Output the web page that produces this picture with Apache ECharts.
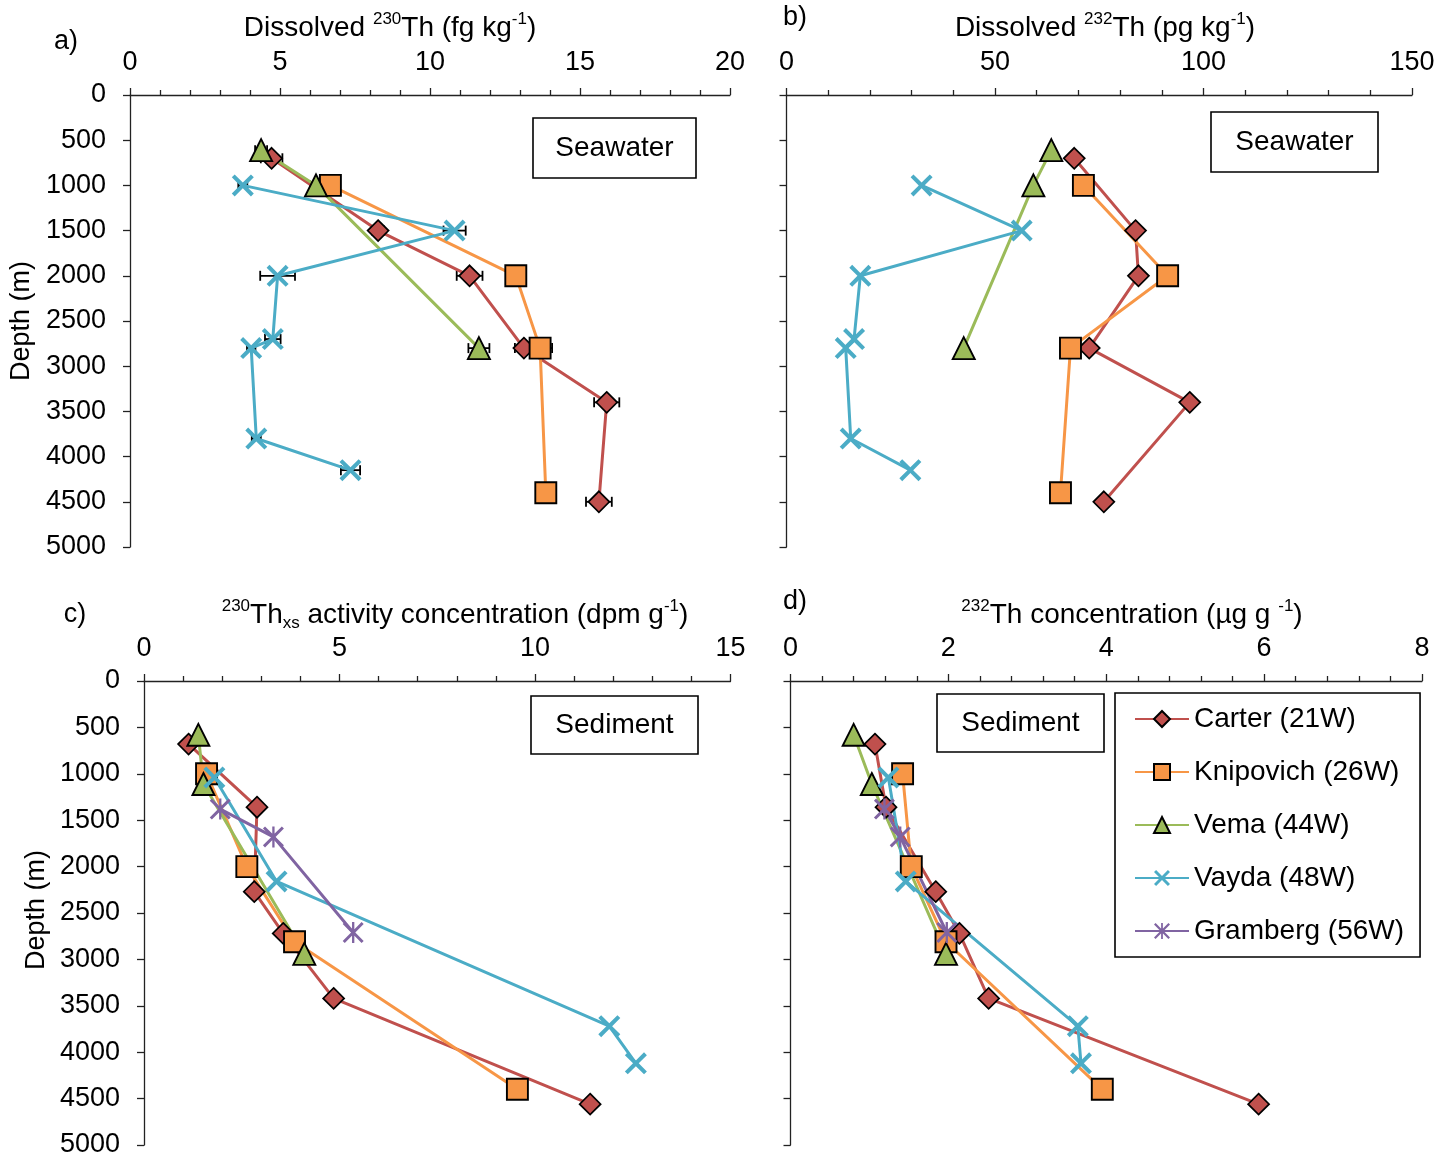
<!DOCTYPE html>
<html>
<head>
<meta charset="utf-8">
<title>Thorium profiles, Mid-Atlantic fracture zones</title>
<script src="https://cdn.jsdelivr.net/npm/echarts@6/dist/echarts.min.js"></script>
<style>
  html, body { margin: 0; padding: 0; background: #ffffff; }
  #chart { width: 1455px; height: 1160px; }
</style>
</head>
<body>
<div id="chart"></div>
<script>
// ---------- Seawater (panels a, b) ----------
const swCarterDepth    = [700, 1500, 2000, 2800, 3400, 4500];
const swKnipovichDepth = [1000, 2000, 2800, 4400];
const swVemaDepth      = [610, 1000, 2800];
const swVaydaDepth     = [1000, 1500, 2000, 2700, 2800, 3800, 4150];

// dissolved 230Th, fg/kg, with 2-sigma uncertainty
const th230Carter       = [4.72, 8.27, 11.32, 13.13, 15.89, 15.63];
const th230CarterErr    = [0.36, 0.20, 0.43, 0.30, 0.42, 0.43];
const th230Knipovich    = [6.68, 12.86, 13.67, 13.86];
const th230KnipovichErr = [0.20, 0.20, 0.40, 0.20];
const th230Vema         = [4.37, 6.20, 11.63];
const th230VemaErr      = [0.20, 0.20, 0.35];
const th230Vayda        = [3.76, 10.82, 4.92, 4.76, 4.04, 4.21, 7.35];
const th230VaydaErr     = [0.15, 0.37, 0.58, 0.26, 0.14, 0.15, 0.32];

// dissolved 232Th, pg/kg
const th232Carter    = [69.0, 83.7, 84.4, 72.6, 96.7, 76.1];
const th232Knipovich = [71.2, 91.4, 68.1, 65.7];
const th232Vema      = [63.5, 59.2, 42.5];
const th232Vayda     = [32.4, 56.4, 17.7, 16.2, 14.2, 15.4, 29.7];

// ---------- Sediment (panels c, d) ----------
const sedCarterDepth    = [680, 1360, 2270, 2720, 3420, 4560];
const sedKnipovichDepth = [1000, 2000, 2810, 4400];
const sedVemaDepth      = [580, 1110, 2940];
const sedVaydaDepth     = [1040, 2160, 3720, 4120];
const sedGrambergDepth  = [1380, 1680, 2710];

// 230Th excess, dpm/g
const thxsCarter    = [1.14, 2.89, 2.82, 3.56, 4.85, 11.41];
const thxsKnipovich = [1.60, 2.63, 3.85, 9.55];
const thxsVema      = [1.39, 1.52, 4.10];
const thxsVayda     = [1.80, 3.39, 11.90, 12.58];
const thxsGramberg  = [1.95, 3.31, 5.35];

// 232Th, ug/g
const sed232Carter    = [1.07, 1.21, 1.84, 2.14, 2.51, 5.93];
const sed232Knipovich = [1.42, 1.53, 1.97, 3.95];
const sed232Vema      = [0.80, 1.03, 1.97];
const sed232Vayda     = [1.24, 1.46, 3.64, 3.68];
const sed232Gramberg  = [1.19, 1.39, 1.98];

// axis ranges and tick steps
const xMax      = [20, 150, 15, 8];
const xInterval = [5, 50, 5, 2];
const depthMax = 5000;
const depthStep = 500;

const stations = ['Carter (21W)', 'Knipovich (26W)', 'Vema (44W)', 'Vayda (48W)', 'Gramberg (56W)'];

// ---------- styling ----------
const FONT = '"Liberation Sans", Arial, Helvetica, sans-serif';
const crossPath = 'path://M2.6,0 L10,7.4 L17.4,0 L20,2.6 L12.6,10 L20,17.4 L17.4,20 L10,12.6 L2.6,20 L0,17.4 L7.4,10 L0,2.6 Z';
const starPath  = 'path://M2,0 L10,8 L18,0 L20,2 L12,10 L20,18 L18,20 L10,12 L2,20 L0,18 L8,10 L0,2 Z M8.9,0 L11.1,0 L11.1,20 L8.9,20 Z';

const look = {
  'Carter (21W)':    { color: '#C0504D', symbol: 'diamond',  size: 21, border: 1.7 },
  'Knipovich (26W)': { color: '#F79646', symbol: 'rect',     size: 21, border: 1.9 },
  'Vema (44W)':      { color: '#9BBB59', symbol: 'triangle', size: 22, border: 1.9 },
  'Vayda (48W)':     { color: '#4BACC6', symbol: crossPath,  size: 22, border: 0 },
  'Gramberg (56W)':  { color: '#8064A2', symbol: starPath,   size: 21, border: 0 }
};

function profile(name, panel, xs, depths) {
  const s = look[name];
  return {
    type: 'line',
    name: name,
    xAxisIndex: panel,
    yAxisIndex: panel,
    data: xs.map((v, i) => [v, depths[i]]),
    symbol: s.symbol,
    symbolSize: s.size,
    showAllSymbol: true,
    clip: false,
    itemStyle: { color: s.color, borderColor: '#000', borderWidth: s.border },
    lineStyle: { color: s.color, width: 3 },
    emphasis: { disabled: true },
    z: 3
  };
}

function errorBars(panel, xs, errs, depths) {
  return {
    type: 'custom',
    xAxisIndex: panel,
    yAxisIndex: panel,
    data: xs.map((v, i) => [v, depths[i], errs[i]]),
    z: 2,
    silent: true,
    renderItem: function (params, api) {
      const x = api.value(0), y = api.value(1), e = api.value(2);
      const lo = api.coord([x - e, y]);
      const hi = api.coord([x + e, y]);
      const cap = 5;
      const st = { stroke: '#000', lineWidth: 1.8, fill: null };
      return {
        type: 'group',
        children: [
          { type: 'line', shape: { x1: lo[0], y1: lo[1], x2: hi[0], y2: hi[1] }, style: st },
          { type: 'line', shape: { x1: lo[0], y1: lo[1] - cap, x2: lo[0], y2: lo[1] + cap }, style: st },
          { type: 'line', shape: { x1: hi[0], y1: hi[1] - cap, x2: hi[0], y2: hi[1] + cap }, style: st }
        ]
      };
    }
  };
}

// ---------- grids & axes ----------
const grids = [
  { left: 130,   top: 95,  width: 600,   height: 452 },
  { left: 786.5, top: 95,  width: 625.5, height: 452 },
  { left: 144,   top: 681, width: 586.5, height: 464 },
  { left: 790.5, top: 681, width: 631.5, height: 464 }
];

const axisLineStyle = { color: '#222', width: 1.3 };

const xAxes = grids.map((g, i) => ({
  type: 'value',
  gridIndex: i,
  position: 'top',
  min: 0,
  max: xMax[i],
  interval: xInterval[i],
  axisLine: { show: true, onZero: false, lineStyle: axisLineStyle },
  axisTick: { show: true, inside: false, length: 7, lineStyle: axisLineStyle },
  minorTick: { show: true, splitNumber: 5, length: 5, lineStyle: axisLineStyle },
  splitLine: { show: false },
  minorSplitLine: { show: false },
  axisLabel: { color: '#000', fontSize: 27, fontFamily: FONT, margin: 19, formatter: v => String(v) }
}));

const yAxes = grids.map((g, i) => ({
  type: 'value',
  gridIndex: i,
  inverse: true,
  min: 0,
  max: depthMax,
  interval: depthStep,
  axisLine: { show: true, onZero: false, lineStyle: axisLineStyle },
  axisTick: { show: true, inside: false, length: 7, lineStyle: axisLineStyle },
  splitLine: { show: false },
  axisLabel: { show: i === 0 || i === 2, color: '#000', fontSize: 27, fontFamily: FONT, margin: 24, formatter: v => String(v) }
}));

// ---------- series ----------
const series = [
  errorBars(0, th230Carter, th230CarterErr, swCarterDepth),
  errorBars(0, th230Knipovich, th230KnipovichErr, swKnipovichDepth),
  errorBars(0, th230Vema, th230VemaErr, swVemaDepth),
  errorBars(0, th230Vayda, th230VaydaErr, swVaydaDepth),

  profile(stations[0], 0, th230Carter, swCarterDepth),
  profile(stations[1], 0, th230Knipovich, swKnipovichDepth),
  profile(stations[2], 0, th230Vema, swVemaDepth),
  profile(stations[3], 0, th230Vayda, swVaydaDepth),

  profile(stations[0], 1, th232Carter, swCarterDepth),
  profile(stations[1], 1, th232Knipovich, swKnipovichDepth),
  profile(stations[2], 1, th232Vema, swVemaDepth),
  profile(stations[3], 1, th232Vayda, swVaydaDepth),

  profile(stations[0], 2, thxsCarter, sedCarterDepth),
  profile(stations[1], 2, thxsKnipovich, sedKnipovichDepth),
  profile(stations[2], 2, thxsVema, sedVemaDepth),
  profile(stations[3], 2, thxsVayda, sedVaydaDepth),
  profile(stations[4], 2, thxsGramberg, sedGrambergDepth),

  profile(stations[0], 3, sed232Carter, sedCarterDepth),
  profile(stations[1], 3, sed232Knipovich, sedKnipovichDepth),
  profile(stations[2], 3, sed232Vema, sedVemaDepth),
  profile(stations[3], 3, sed232Vayda, sedVaydaDepth),
  profile(stations[4], 3, sed232Gramberg, sedGrambergDepth)
];

// ---------- free text: axis titles, panel letters, boxed labels ----------
const richStyles = {
  n: { fontSize: 28, fontFamily: FONT, color: '#000', lineHeight: 34 },
  s: { fontSize: 17, fontFamily: FONT, color: '#000', lineHeight: 17, verticalAlign: 'top' },
  b: { fontSize: 17, fontFamily: FONT, color: '#000', lineHeight: 17, verticalAlign: 'bottom' }
};

function label(text, x, y, extra) {
  return Object.assign({
    type: 'text', x: x, y: y, z: 10,
    style: { text: text, fontSize: 27, fontFamily: FONT, fill: '#000', align: 'center', verticalAlign: 'middle' }
  }, extra || {});
}

function richLabel(text, x, y) {
  return {
    type: 'text', x: x, y: y, z: 10,
    style: { text: text, rich: richStyles, align: 'center', verticalAlign: 'middle', fill: '#000' }
  };
}

function boxed(text, x, y, w, h) {
  return {
    type: 'group', z: 10,
    children: [
      { type: 'rect', shape: { x: x, y: y, width: w, height: h },
        style: { fill: '#fff', stroke: '#000', lineWidth: 1.6 } },
      { type: 'text', x: x + w / 2, y: y + h / 2,
        style: { text: text, fontSize: 28, fontFamily: FONT, fill: '#000', align: 'center', verticalAlign: 'middle' } }
    ]
  };
}

const graphics = [
  label('a)', 66, 42),
  label('b)', 795, 18),
  label('c)', 75, 615),
  label('d)', 795, 602),

  richLabel('{n|Dissolved }{s|230}{n|Th (fg kg}{s|-1}{n|)}', 390, 28),
  richLabel('{n|Dissolved }{s|232}{n|Th (pg kg}{s|-1}{n|)}', 1105, 28),
  richLabel('{s|230}{n|Th}{b|xs}{n| activity concentration (dpm g}{s|-1}{n|)}', 455, 615),
  richLabel('{s|232}{n|Th concentration (µg g }{s|-1}{n|)}', 1132, 615),

  label('Depth (m)', 22, 321, { rotation: Math.PI / 2 }),
  label('Depth (m)', 37, 910, { rotation: Math.PI / 2 }),

  boxed('Seawater', 533, 118, 163, 60),
  boxed('Seawater', 1211, 112, 167, 60),
  boxed('Sediment', 531, 696, 167, 58),
  boxed('Sediment', 937, 694, 167, 58)
];

const chart = echarts.init(document.getElementById('chart'), null, { renderer: 'canvas' });
chart.setOption({
  animation: false,
  backgroundColor: '#ffffff',
  textStyle: { fontFamily: FONT },
  grid: grids.map(g => Object.assign({ containLabel: false, outerBoundsMode: 'none' }, g)),
  xAxis: xAxes,
  yAxis: yAxes,
  legend: {
    data: stations,
    orient: 'vertical',
    left: 1115,
    top: 693,
    padding: [12, 16, 12, 19],
    itemWidth: 54,
    itemHeight: 20,
    itemGap: 25,
    borderColor: '#000',
    borderWidth: 1.6,
    backgroundColor: '#fff',
    selectedMode: false,
    textStyle: { fontSize: 28, fontFamily: FONT, color: '#000' }
  },
  graphic: graphics,
  series: series
});
</script>
</body>
</html>
